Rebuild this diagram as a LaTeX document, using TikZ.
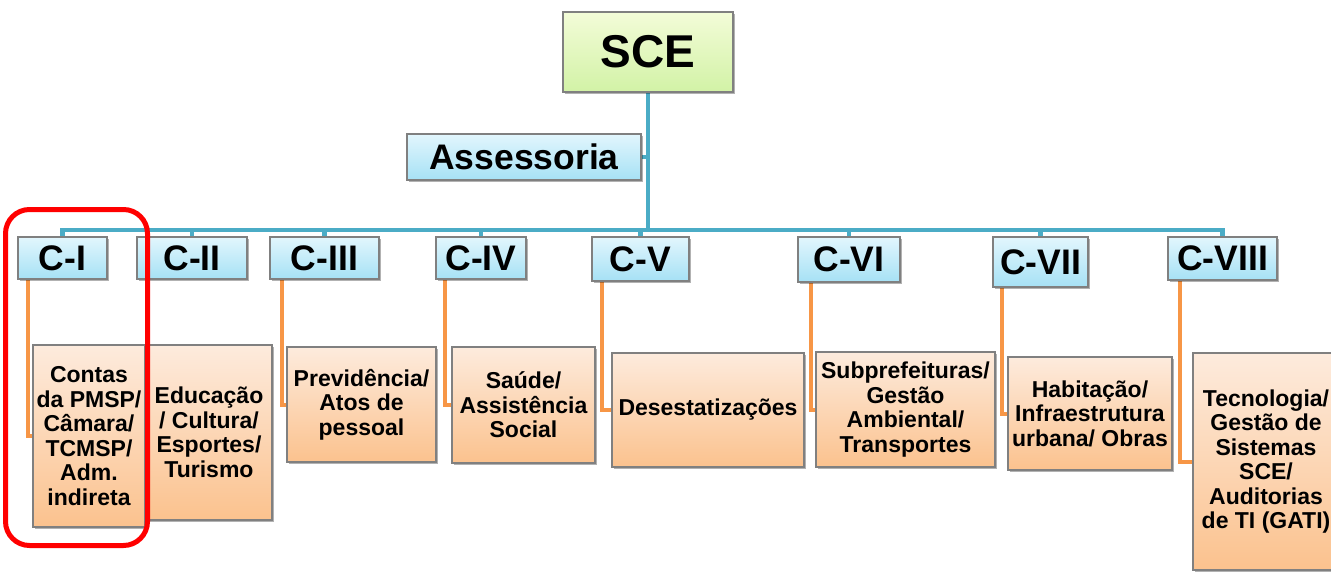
\documentclass[tikz,border=0pt]{standalone}
\usepackage{fontspec}
\setmainfont{Liberation Sans}
\usetikzlibrary{shadows,backgrounds}
\definecolor{blueline}{HTML}{4BACC6}
\definecolor{orline}{HTML}{F79646}
\definecolor{bluetop}{HTML}{E2F6FD}
\definecolor{bluebot}{HTML}{A6E1F5}
\definecolor{ortop}{HTML}{FDEBDD}
\definecolor{orbot}{HTML}{FBC28E}
\definecolor{grtop}{HTML}{F3FCD8}
\definecolor{grbot}{HTML}{D2F2A6}
\definecolor{edgegray}{HTML}{808080}
\tikzset{
  box/.style={draw=edgegray, line width=1.2pt, inner sep=0pt, align=center,
    drop shadow={shadow xshift=1.5pt, shadow yshift=-2pt, opacity=0.3, fill=black}},
  topbox/.style={box, top color=grtop, bottom color=grbot,
    font=\fontsize{46}{50}\selectfont\bfseries},
  headbox/.style={box, top color=bluetop, bottom color=bluebot,
    font=\fontsize{35.5}{38}\selectfont\bfseries},
  subbox/.style={box, top color=ortop, bottom color=orbot,
    font=\fontsize{23}{24.5}\selectfont\bfseries},
  busline/.style={draw=blueline, line width=4.5pt},
  legline/.style={draw=orline, line width=4pt},
  highlight/.style={draw=red, line width=5pt, rounded corners=24pt, inner sep=0pt}
}
\begin{document}
\begin{tikzpicture}[x=1pt, y=-1pt]
\useasboundingbox (0,0) rectangle (1331,573);
% top
\node[topbox, minimum width=170, minimum height=80] (sce) at (648,52) {SCE};
\node[headbox, minimum width=234, minimum height=46] (ass) at (524,157) {Assessoria};
% heads
\node[headbox, minimum width=89,  minimum height=42] (c1) at (62.5,258) {C-I};
\node[headbox, minimum width=110, minimum height=42] (c2) at (192,258) {C-II};
\node[headbox, minimum width=109, minimum height=42] (c3) at (324.5,258) {C-III};
\node[headbox, minimum width=90,  minimum height=42] (c4) at (481,258) {C-IV};
\node[headbox, minimum width=97,  minimum height=44] (c5) at (640.5,259) {C-V};
\node[headbox, minimum width=102, minimum height=45] (c6) at (849,259.5) {C-VI};
\node[headbox, minimum width=95,  minimum height=50] (c7) at (1040.5,262) {C-VII};
\node[headbox, minimum width=109, minimum height=43] (c8) at (1222.5,258.5) {C-VIII};
% sub boxes
\node[subbox, minimum width=112, minimum height=182] (b1) at (89,436) {Contas\\da PMSP/\\Câmara/\\TCMSP/\\Adm.\\indireta};
\node[subbox, minimum width=126, minimum height=175] (b2) at (209,432.5) {Educação\\/ Cultura/\\Esportes/\\Turismo};
\node[subbox, minimum width=149, minimum height=115] (b3) at (361.5,404.5) {Previdência/\\Atos de\\pessoal};
\node[subbox, minimum width=143, minimum height=116] (b4) at (523.5,405) {Saúde/\\Assistência\\Social};
\node[subbox, minimum width=192, minimum height=114] (b5) at (708,410) {Desestatizações};
\node[subbox, minimum width=179, minimum height=115] (b6) at (905.5,409.5) {Subprefeituras/\\Gestão\\Ambiental/\\Transportes};
\node[subbox, minimum width=164, minimum height=113] (b7) at (1090,413.5) {Habitação/\\Infraestrutura\\urbana/ Obras};
\node[subbox, minimum width=146, minimum height=217] (b8) at (1266,461.5) {Tecnologia/\\Gestão de\\Sistemas\\SCE/\\Auditorias\\de TI (GATI)};
\coordinate (bus) at (0,230);
\begin{scope}[on background layer]
  \draw[busline] (sce.south) -- (sce.south |- bus);
  \draw[busline] (ass.east) -- (ass.east -| sce.south);
  \draw[busline] (c1.north) -- (c1.north |- bus) -- (c8.north |- bus) -- (c8.north);
  \foreach \c in {c2,c3,c4,c5,c6,c7} { \draw[busline] (\c.north) -- (\c.north |- bus); }
  \draw[legline] ([xshift=10.5pt]c1.south west) |- (b1.west);
  \draw[legline] ([xshift=12pt]c2.south west) |- (b2.west);
  \draw[legline] ([xshift=13pt]c3.south west) |- (b3.west);
  \draw[legline] ([xshift=10pt]c4.south west) |- (b4.west);
  \draw[legline] ([xshift=11pt]c5.south west) |- (b5.west);
  \draw[legline] ([xshift=14pt]c6.south west) |- (b6.west);
  \draw[legline] ([xshift=10pt]c7.south west) |- (b7.west);
  \draw[legline] ([xshift=13pt]c8.south west) |- (b8.west);
\end{scope}
\node[highlight, minimum width=142, minimum height=336] (hl) at (76.5,377.5) {};
\end{tikzpicture}
\end{document}
